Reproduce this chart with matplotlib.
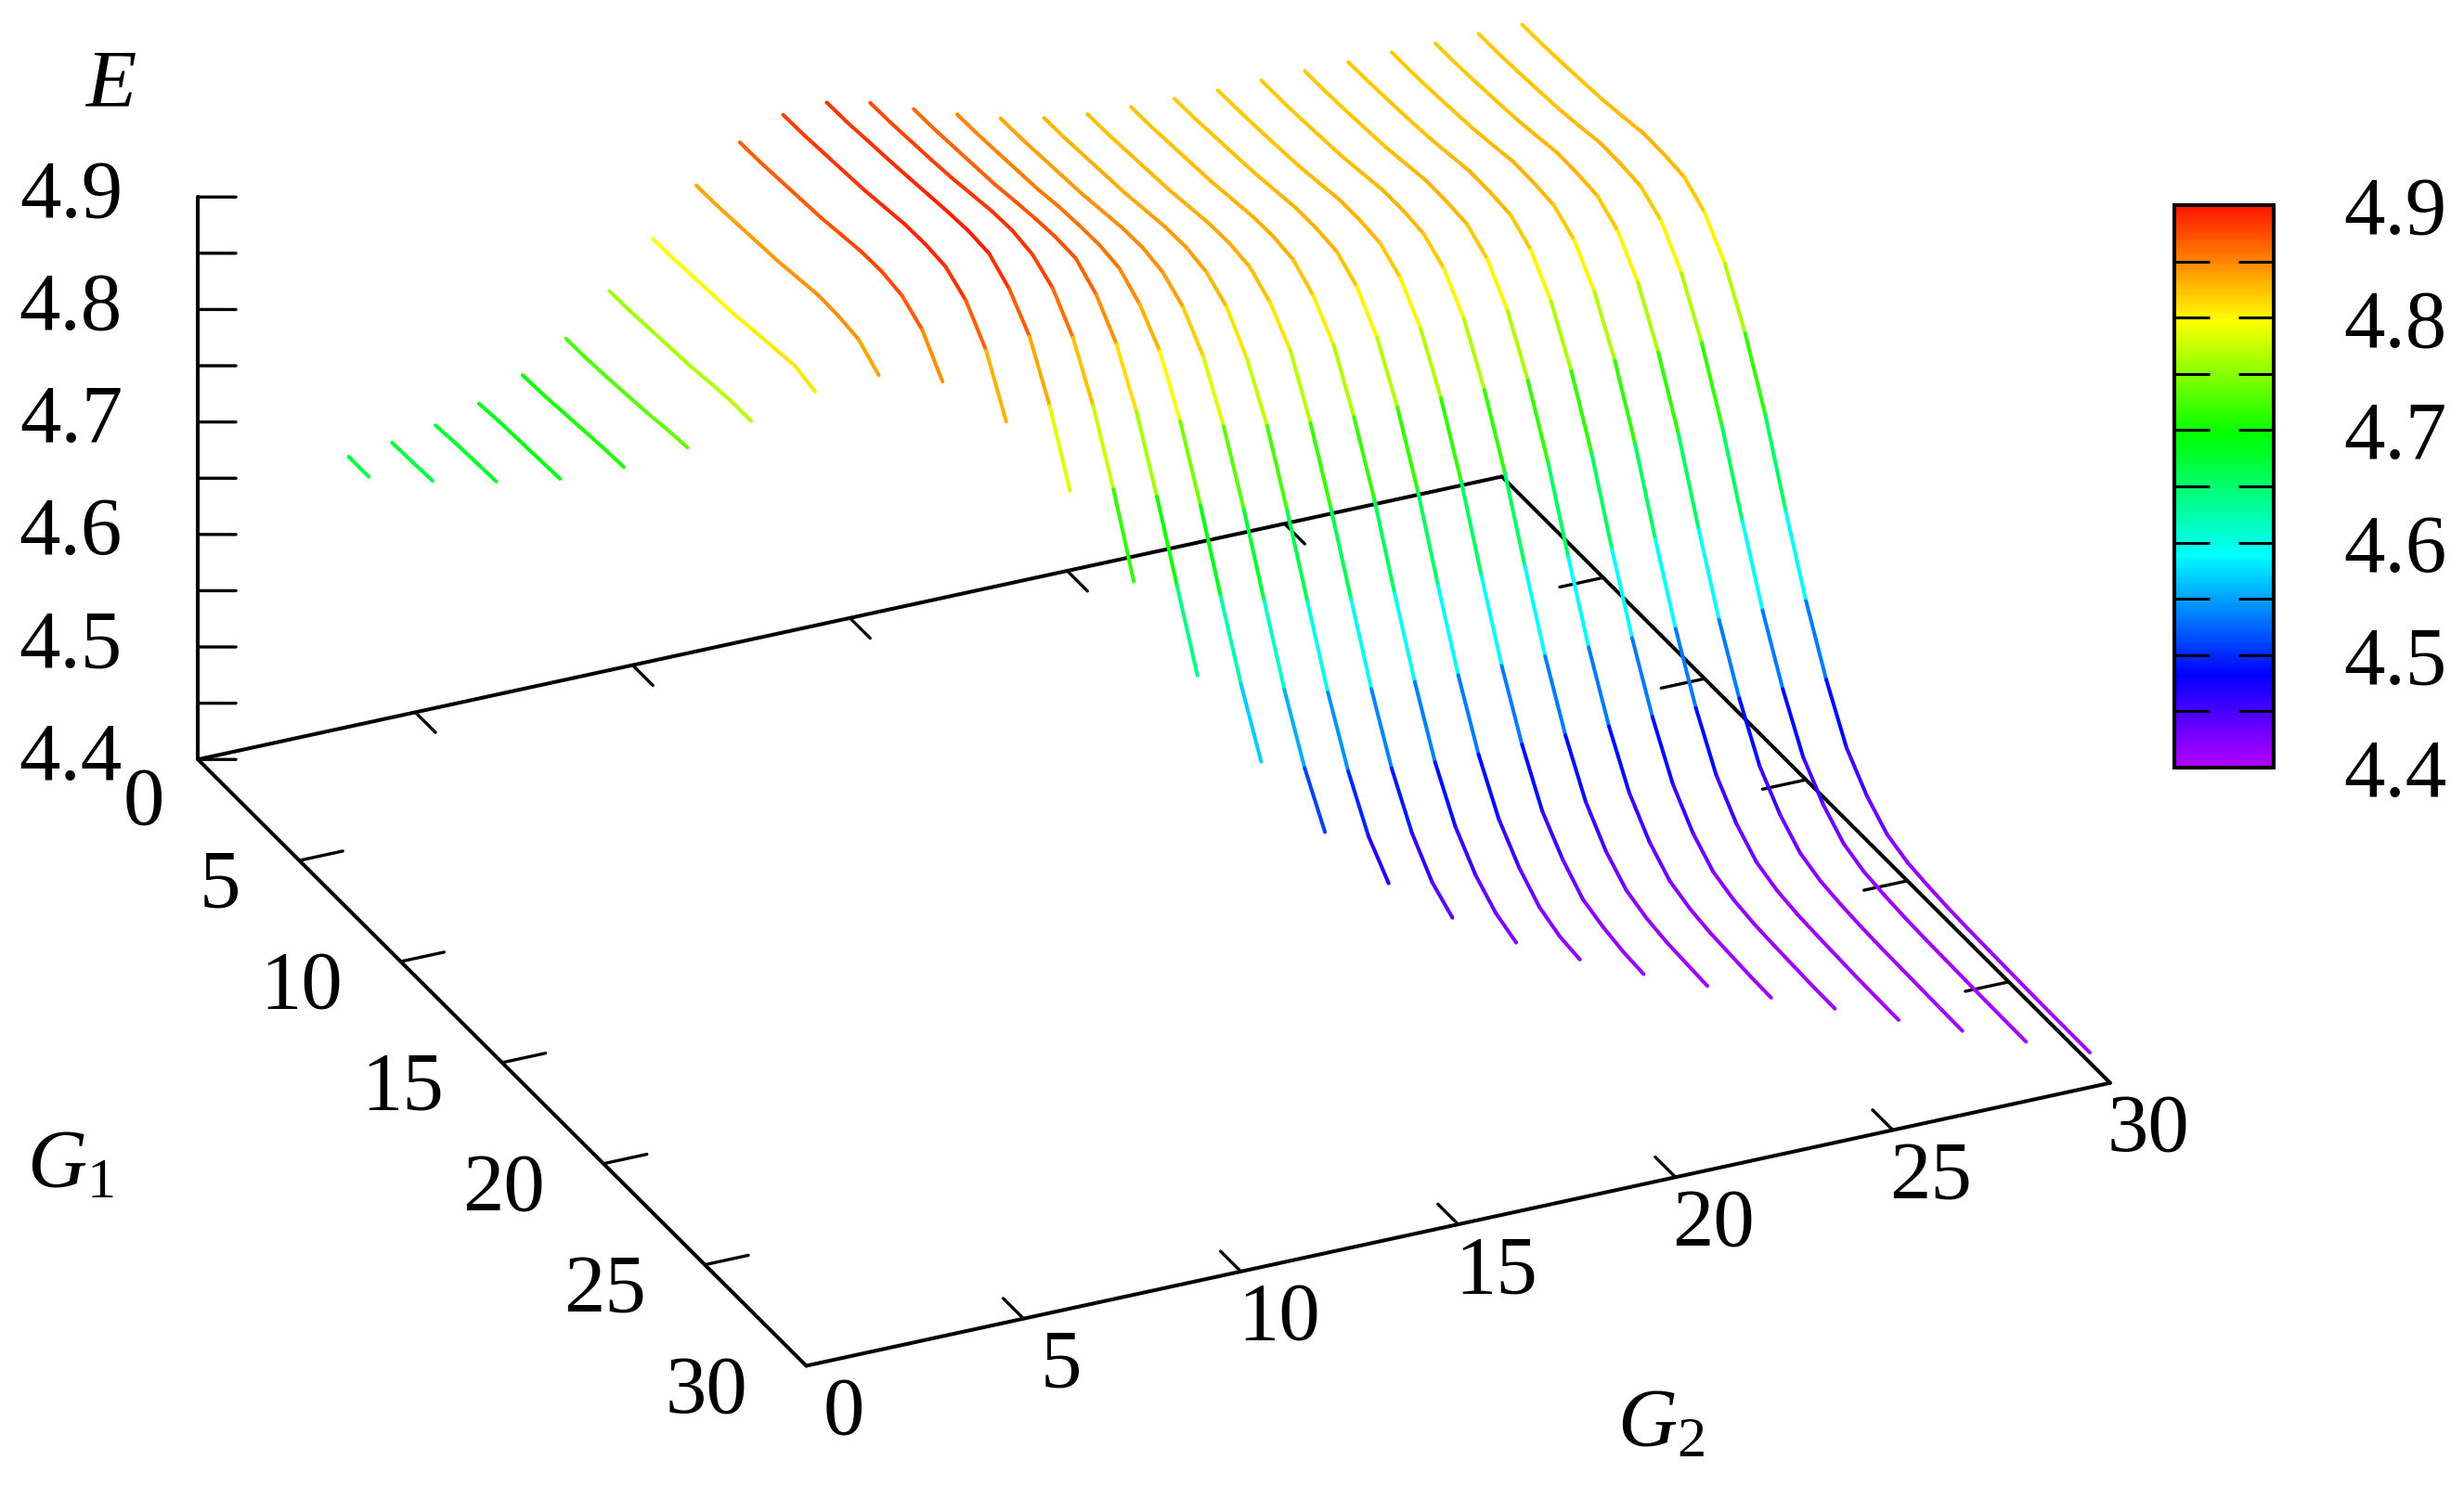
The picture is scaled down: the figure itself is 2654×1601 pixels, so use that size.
import numpy as np
import matplotlib
matplotlib.use('Agg')
import matplotlib.pyplot as plt
from matplotlib.colors import LinearSegmentedColormap, Normalize
from matplotlib.cm import ScalarMappable
from mpl_toolkits.mplot3d import proj3d
from mpl_toolkits.mplot3d.art3d import Line3DCollection

plt.rcParams['font.family'] = ['Liberation Serif', 'DejaVu Serif']
plt.rcParams['mathtext.fontset'] = 'custom'
plt.rcParams['mathtext.rm'] = 'Liberation Serif'
plt.rcParams['mathtext.it'] = 'Liberation Serif:italic'

# E along G1 = 1, 2, ... for each fixed G2
E_G2_03 = [4.662, 4.662]
E_G2_04 = [4.666, 4.667, 4.668]
E_G2_05 = [4.673, 4.675, 4.676, 4.677]
E_G2_06 = [4.684, 4.686, 4.687, 4.688, 4.689]
E_G2_07 = [4.701, 4.702, 4.704, 4.706, 4.708, 4.709]
E_G2_08 = [4.725, 4.7255, 4.727, 4.729, 4.731, 4.734, 4.736]
E_G2_09 = [4.759, 4.7595, 4.761, 4.7625, 4.764, 4.7668, 4.769, 4.769]
E_G2_10 = [4.797, 4.7975, 4.799, 4.8005, 4.802, 4.8048, 4.8075, 4.810, 4.805]
E_G2_11 = [4.836, 4.8365, 4.838, 4.8395, 4.841, 4.8438, 4.8465, 4.846, 4.843, 4.829]
E_G2_12 = [4.866, 4.8665, 4.868, 4.8695, 4.871, 4.8738, 4.8765, 4.877, 4.8735, 4.861, 4.833]
E_G2_13 = [4.882, 4.8825, 4.884, 4.8855, 4.887, 4.8898, 4.8925, 4.893, 4.891, 4.879, 4.8526, 4.807]
E_G2_14 = [4.8847, 4.8852, 4.887, 4.8885, 4.8905, 4.8927, 4.8948, 4.896, 4.8944, 4.8807, 4.8565, 4.8125, 4.755]
E_G2_15 = [4.876, 4.8765, 4.878, 4.8795, 4.8815, 4.8845, 4.8875, 4.8885, 4.885, 4.873, 4.847, 4.804, 4.748, 4.684]
E_G2_16 = [4.862, 4.8625, 4.864, 4.8655, 4.867, 4.870, 4.8725, 4.874, 4.873, 4.859, 4.833, 4.790, 4.733, 4.671, 4.610]
E_G2_17 = [4.849, 4.8495, 4.851, 4.8525, 4.854, 4.857, 4.8585, 4.859, 4.856, 4.842, 4.818, 4.774, 4.717, 4.654, 4.594,
           4.543]
E_G2_18 = [4.837, 4.8375, 4.839, 4.8405, 4.842, 4.8448, 4.8475, 4.848, 4.844, 4.831, 4.805, 4.761, 4.705, 4.642, 4.5805,
           4.529, 4.490]
E_G2_19 = [4.829, 4.8295, 4.831, 4.8325, 4.834, 4.8368, 4.8395, 4.840, 4.836, 4.823, 4.795, 4.753, 4.695, 4.632, 4.570,
           4.518, 4.478, 4.454]
E_G2_20 = [4.824, 4.8245, 4.826, 4.8275, 4.829, 4.8318, 4.8345, 4.835, 4.832, 4.8186, 4.794, 4.747, 4.6895, 4.6264,
           4.5646, 4.512, 4.4726, 4.4466, 4.433]
E_G2_21 = [4.822, 4.8225, 4.824, 4.8255, 4.827, 4.8298, 4.8325, 4.833, 4.830, 4.8158, 4.790, 4.744, 4.689, 4.6235,
           4.5625, 4.509, 4.4697, 4.4445, 4.4286, 4.4205]
E_G2_22 = [4.821, 4.8215, 4.823, 4.8245, 4.826, 4.8288, 4.8315, 4.8315, 4.829, 4.8156, 4.788, 4.744, 4.688, 4.622, 4.560,
           4.5075, 4.468, 4.443, 4.4258, 4.4177, 4.415]
E_G2_23 = [4.820, 4.8205, 4.8215, 4.823, 4.8245, 4.8275, 4.8305, 4.8305, 4.828, 4.815, 4.788, 4.744, 4.688, 4.622, 4.560,
           4.508, 4.4667, 4.442, 4.4243, 4.4175, 4.4134, 4.4116]
E_G2_24 = [4.8205, 4.8205, 4.8215, 4.823, 4.8245, 4.8275, 4.8305, 4.8305, 4.828, 4.815, 4.788, 4.743, 4.688, 4.622,
           4.560, 4.5077, 4.4666, 4.4405, 4.424, 4.417, 4.4135, 4.412, 4.4107]
E_G2_25 = [4.8204, 4.8205, 4.8215, 4.823, 4.8245, 4.8275, 4.8305, 4.830, 4.828, 4.815, 4.787, 4.743, 4.688, 4.6215,
           4.5597, 4.5075, 4.4664, 4.4405, 4.4238, 4.417, 4.4135, 4.412, 4.4105, 4.4098]
E_G2_26 = [4.820, 4.8205, 4.8215, 4.8228, 4.8245, 4.8275, 4.8305, 4.830, 4.828, 4.815, 4.787, 4.743, 4.688, 4.621,
           4.5596, 4.5074, 4.466, 4.440, 4.4235, 4.4168, 4.4135, 4.412, 4.411, 4.410, 4.4097]
E_G2_27 = [4.8204, 4.8203, 4.8213, 4.8228, 4.8245, 4.8274, 4.8307, 4.8302, 4.828, 4.815, 4.787, 4.744, 4.688, 4.621,
           4.5595, 4.507, 4.4655, 4.440, 4.4235, 4.4166, 4.4135, 4.412, 4.411, 4.410, 4.4095, 4.4092]
E_G2_28 = [4.820, 4.8202, 4.8213, 4.8228, 4.8245, 4.8274, 4.8307, 4.8302, 4.828, 4.815, 4.787, 4.743, 4.688, 4.621,
           4.559, 4.507, 4.465, 4.440, 4.4235, 4.4166, 4.4137, 4.412, 4.411, 4.4105, 4.410, 4.4095, 4.4091]
E_G2_29 = [4.820, 4.8201, 4.8212, 4.8227, 4.8244, 4.8273, 4.8307, 4.8302, 4.828, 4.8155, 4.787, 4.743, 4.687, 4.621,
           4.559, 4.507, 4.4648, 4.440, 4.4235, 4.4165, 4.4138, 4.412, 4.411, 4.4105, 4.410, 4.4095, 4.4092, 4.409]
E_G2_30 = [4.8197, 4.8201, 4.8212, 4.8227, 4.8244, 4.8273, 4.8307, 4.8302, 4.828, 4.8144, 4.787, 4.743, 4.688, 4.621,
           4.559, 4.507, 4.4644, 4.4397, 4.4233, 4.4165, 4.4138, 4.412, 4.411, 4.4105, 4.410, 4.4095, 4.4092, 4.4091,
           4.409]

curves = [E_G2_03, E_G2_04, E_G2_05, E_G2_06, E_G2_07, E_G2_08, E_G2_09, E_G2_10, E_G2_11, E_G2_12,
          E_G2_13, E_G2_14, E_G2_15, E_G2_16, E_G2_17, E_G2_18, E_G2_19, E_G2_20, E_G2_21, E_G2_22,
          E_G2_23, E_G2_24, E_G2_25, E_G2_26, E_G2_27, E_G2_28, E_G2_29, E_G2_30]
G2_values = list(range(3, 31))

G_ticks = [0, 5, 10, 15, 20, 25, 30]
E_labels = [4.4, 4.5, 4.6, 4.7, 4.8, 4.9]
E_ticks = [4.4, 4.45, 4.5, 4.55, 4.6, 4.65, 4.7, 4.75, 4.8, 4.85, 4.9]

# palette stops, taken from the colour box
palette_E = [4.4, 4.482, 4.589, 4.696, 4.798, 4.9]
palette_colors = ['#b400ff', '#0000ff', '#00ffff', '#00ff00', '#ffff00', '#ff1400']

W_PX, H_PX = 2654, 1601
FS = 64
LW = 2.9
TICK_LW = 2.4

cmap = LinearSegmentedColormap.from_list(
    'rainbow_box', [((e - 4.4) / 0.5, c) for e, c in zip(palette_E, palette_colors)])
norm = Normalize(4.4, 4.9)

fig = plt.figure(figsize=(W_PX / 100, H_PX / 100), dpi=100)

# square axes, sized so the box lands where gnuplot put it
zoom = 1.7
side = 2229 / zoom
left = 1243 - 0.5135 * side
bottom = 911.5 - 0.5135 * side
ax = fig.add_axes([left / W_PX, bottom / H_PX, side / W_PX, side / H_PX], projection='3d', proj_type='ortho')
ax.computed_zorder = False
ax.view_init(elev=27.72, azim=-25.01)
ax.set_box_aspect((1, 1, 0.4417), zoom=zoom)
ax.set_xlim(0, 30)
ax.set_ylim(0, 30)
ax.set_zlim(4.4, 4.9)
ax.set_axis_off()


def seg(p, q, lw=LW):
    ax.plot([p[0], q[0]], [p[1], q[1]], [p[2], q[2]], color='k', lw=lw, zorder=2, clip_on=False,
            solid_capstyle='round')


def label(g1, g2, e, s, ha):
    # text sits in the plane of the picture, at the projected spot
    x, y, _ = proj3d.proj_transform(g1, g2, e, ax.get_proj())
    ax.text2D(x, y, s, transform=ax.transData, ha=ha, va='center', fontsize=FS)


# base frame and E axis
seg((0, 0, 4.4), (30, 0, 4.4))
seg((30, 0, 4.4), (30, 30, 4.4))
seg((30, 30, 4.4), (0, 30, 4.4))
seg((0, 30, 4.4), (0, 0, 4.4))
seg((0, 0, 4.4), (0, 0, 4.9))

for g in G_ticks[1:-1]:
    seg((g, 0, 4.4), (g, 1, 4.4), TICK_LW)
    seg((g, 30, 4.4), (g, 29, 4.4), TICK_LW)
    seg((30, g, 4.4), (29, g, 4.4), TICK_LW)
    seg((0, g, 4.4), (1, g, 4.4), TICK_LW)
for e in E_ticks:
    seg((0, 0, e), (0.336, 0.717, e), TICK_LW)

# one polyline per G2, coloured per segment by its mean E
segments = []
seg_values = []
for g2, energy in zip(G2_values, curves):
    g1 = np.arange(1, len(energy) + 1)
    pts = np.column_stack([g1, np.full(len(g1), g2), energy])
    segments.extend(np.stack([pts[:-1], pts[1:]], axis=1))
    seg_values.extend((pts[:-1, 2] + pts[1:, 2]) / 2)

lc = Line3DCollection(segments, cmap=cmap, norm=norm, linewidths=LW, capstyle='round', zorder=3)
lc.set_array(np.array(seg_values))
lc.set_clip_on(False)
ax.add_collection3d(lc)

# tick labels
for g in G_ticks:
    if g == 0:
        label(g + 1.5, -1.48, 4.4, str(g), 'right')
    else:
        label(g + 0.55, -1.6, 4.4, str(g), 'right')
    label(32.28, g - 0.19, 4.4, str(g), 'center')
for e in E_labels:
    label(-0.667, -1.424, e, f'{e:.1f}', 'right')

fig.text(70 / 1568, 1 - 55 / 946, r'$E$', ha='center', va='center', fontsize=FS)
fig.text(45 / 1568, 1 - 742 / 946, r'$G_1$', ha='center', va='center', fontsize=FS)
fig.text(1057 / 1568, 1 - 908 / 946, r'$G_2$', ha='center', va='center', fontsize=FS)

# colour box
cax = fig.add_axes([2342 / W_PX, 1 - 827 / H_PX, 107 / W_PX, 606 / H_PX])
cb = fig.colorbar(ScalarMappable(norm=norm, cmap=cmap), cax=cax)
cb.outline.set_linewidth(2.9)
cax.set_yticks(E_labels)
cax.set_yticklabels([f'{e:.1f}' for e in E_labels], fontsize=FS)
cax.set_yticks(E_ticks, minor=True)
cax.tick_params(which='both', direction='in', left=True, right=True, length=27.5, width=2.2, colors='k')
cax.tick_params(axis='y', which='major', pad=54)

fig.savefig('out.png', dpi=100)
